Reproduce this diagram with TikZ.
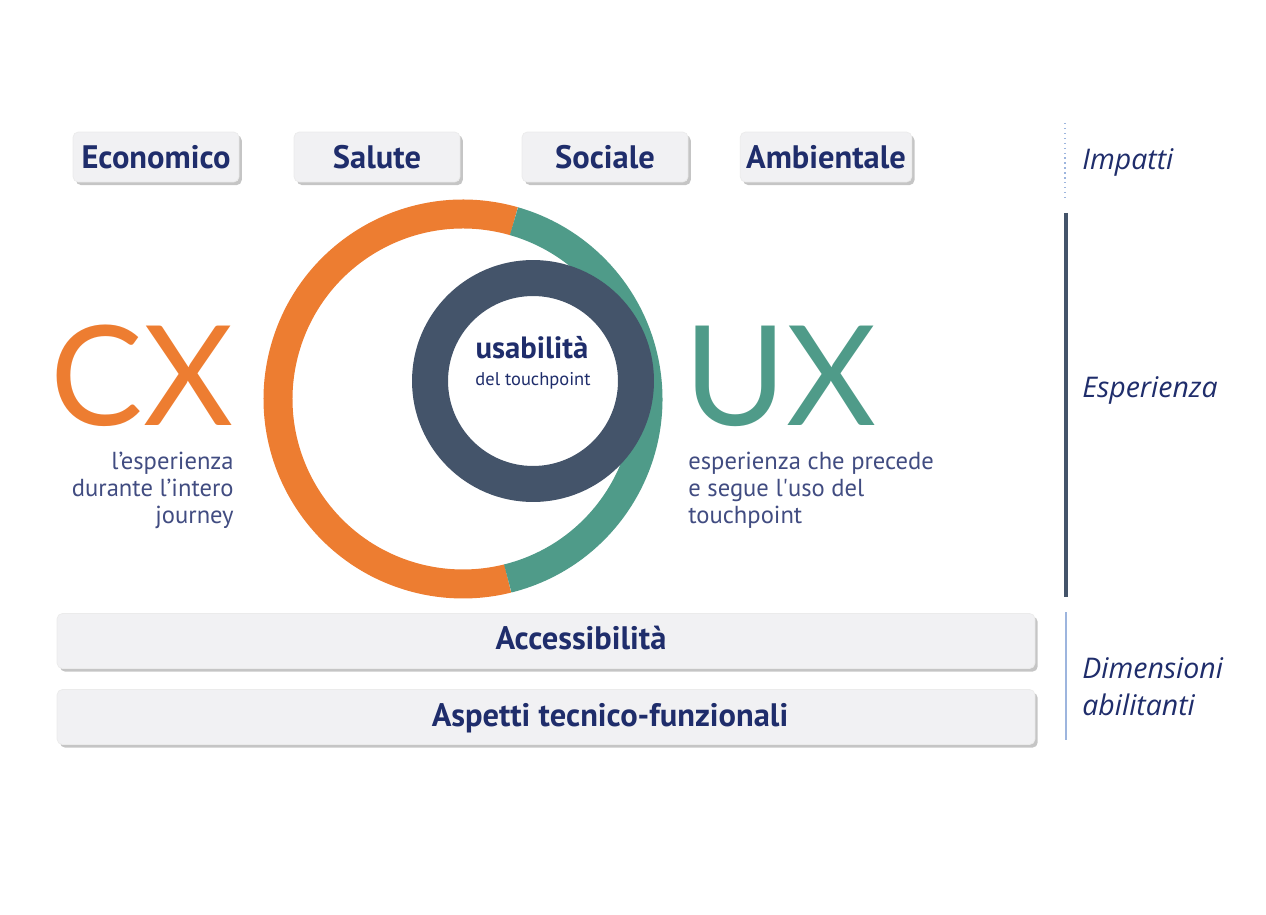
\documentclass[tikz,border=0pt]{standalone}
\usepackage{fontspec}
\setmainfont{PT Sans}
\newfontfamily\bigfont{Lato}
\newfontfamily\sidefont{Open Sans}
\usetikzlibrary{shadows}
\definecolor{cxorange}{HTML}{ED7D31}
\definecolor{uxteal}{HTML}{4F9B89}
\definecolor{slate}{HTML}{44546A}
\definecolor{navy}{HTML}{1F2D6B}
\definecolor{boxgray}{HTML}{F1F1F3}
\definecolor{sepblue}{HTML}{9DB5DE}
\tikzset{impbox/.style={fill=boxgray, draw=black!8, rounded corners=3pt,
    minimum width=3.32cm, minimum height=1cm, text=navy,
    font=\fontsize{18.5}{21}\selectfont\bfseries,
    drop shadow={shadow xshift=1.6pt, shadow yshift=-1.8pt, fill=black!45}}}
\tikzset{widebox/.style={impbox, minimum width=19.56cm, minimum height=1.1cm}}
\tikzset{boxlabel/.style={text=navy, font=\fontsize{18.5}{21}\selectfont\bfseries}}
\tikzset{bigletters/.style={inner sep=0pt, text depth=0pt, font=\bigfont\fontsize{79}{79}\selectfont}}
\tikzset{desc/.style={inner sep=0pt, text=navy!85, font=\fontsize{14}{15.3}\selectfont}}
\tikzset{sidelabel/.style={anchor=west, inner sep=0pt, text=navy, align=left,
    font=\sidefont\fontsize{16.2}{21}\selectfont\itshape}}

\begin{document}
\begin{tikzpicture}[x=0.02cm, y=0.02cm]
    \useasboundingbox (0,0) rectangle (1266,914);
    % impatti
    \node[impbox] (eco) at (156,757) {Economico};
    \node[impbox] (sal) at (377,757) {Salute};
    \node[impbox] (soc) at (605,757) {Sociale};
    \node[impbox] (amb) at (826,757) {Ambientale};
    % rings
    \coordinate (cxc) at (463,515);
    \coordinate (uxc) at (533,533);
    \draw[cxorange, line width=0.58cm] (cxc) ++(74:3.7cm) arc[start angle=74, end angle=284, radius=3.7cm];
    \draw[uxteal, line width=0.58cm] (cxc) ++(-76:3.7cm) arc[start angle=-76, end angle=74, radius=3.7cm];
    \draw[slate, line width=0.72cm] (uxc) circle[radius=2.06cm];
    \node[text=navy, font=\fontsize{17.5}{19}\selectfont\bfseries] (usa) at (532,566) {usabilità};
    \node[text=navy, font=\fontsize{10.5}{12}\selectfont] (tp) at (533,533) {del touchpoint};
    % CX / UX
    \node[bigletters, text=cxorange, anchor=base east] (CX) at (234,489) {CX};
    \node[desc, anchor=north east, align=right] (cxd) at (234,462) {l’esperienza\\durante l’intero\\journey};
    \node[bigletters, text=uxteal, anchor=base west] (UX) at (684,489) {UX};
    \node[desc, anchor=north west, align=left] (uxd) at (688,462) {esperienza che precede\\e segue l\textquotesingle uso del\\touchpoint};
    % dimensioni abilitanti
    \node[widebox] (acc) at (546,273) {};
    \node[boxlabel] (acct) at (581,276) {Accessibilità};
    \node[widebox] (asp) at (546,197) {};
    \node[boxlabel] (aspt) at (610,196) {Aspetti tecnico-funzionali};
    % side labels
    \coordinate (impT) at (1065,791);
    \coordinate (impB) at (1065,714);
    \draw[sepblue, dotted, line width=0.8pt] (impT) -- (impB);
    \node[sidelabel] (imp) at (1082,752) {Impatti};
    \coordinate (espT) at (1066,701);
    \coordinate (espB) at (1066,317);
    \draw[slate, line width=2.3pt] (espT) -- (espB);
    \node[sidelabel] (esp) at (1082,524) {Esperienza};
    \coordinate (dimT) at (1066,302);
    \coordinate (dimB) at (1066,174);
    \draw[sepblue, line width=0.6pt] (dimT) -- (dimB);
    \node[sidelabel] (dim) at (1082,227) {Dimensioni\\abilitanti};
\end{tikzpicture}
\end{document}
